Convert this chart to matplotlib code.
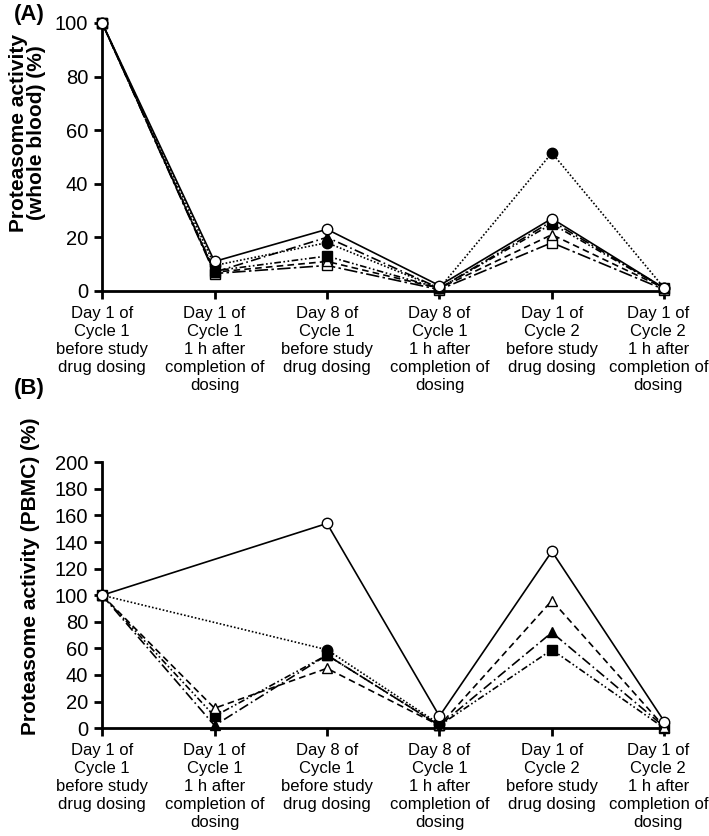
import numpy as np
import matplotlib.pyplot as plt
import matplotlib.transforms as mtransforms

plt.rcParams['font.family'] = ['Liberation Sans', 'DejaVu Sans']
plt.rcParams['font.size'] = 12

categories = ['Day 1 of\nCycle 1\nbefore study\ndrug dosing',
              'Day 1 of\nCycle 1\n1 h after\ncompletion of\ndosing',
              'Day 8 of\nCycle 1\nbefore study\ndrug dosing',
              'Day 8 of\nCycle 1\n1 h after\ncompletion of\ndosing',
              'Day 1 of\nCycle 2\nbefore study\ndrug dosing',
              'Day 1 of\nCycle 2\n1 h after\ncompletion of\ndosing']

# panel A - whole blood
a_open_circle = [100, 11, 23, 2, 27, 1]
a_filled_circle = [100, 9.5, 18, 1, 51.5, 1]
a_filled_triangle = [100, 7, 20, 1, 26, 1]
a_filled_square = [100, 7.5, 13, 1, 25, 1]
a_open_triangle = [100, 7, 11, 1, 21, 1]
a_open_square = [100, 6.5, 9.5, 0.5, 18, 0.5]

# panel B - PBMC (nan = not measured)
b_open_circle = [100, np.nan, 154, 9, 133, 5]
b_filled_circle = [100, np.nan, 59, 3, np.nan, np.nan]
b_open_triangle = [100, 15, 45, 2, 96, 1]
b_filled_triangle = [100, 2, 55, 2, 72, 1]
b_filled_square = [100, 9, 55, 2, 59, 0]

styles = {
    'open_circle': dict(marker='o', mfc='white', ls='-'),
    'filled_circle': dict(marker='o', mfc='black', ls=(0, (1, 1.2))),
    'filled_triangle': dict(marker='^', mfc='black', ls=(0, (6, 2, 1, 2))),
    'filled_square': dict(marker='s', mfc='black', ls=(0, (4, 1.5, 1, 1.5, 1, 1.5))),
    'open_triangle': dict(marker='^', mfc='white', ls=(0, (4, 2.5))),
    'open_square': dict(marker='s', mfc='white', ls=(0, (8, 2, 1.5, 2))),
}

x = np.arange(len(categories))


def draw(ax, vals, key):
    v = np.array(vals, dtype=float)
    m = ~np.isnan(v)
    st = styles[key]
    ax.plot(x[m], v[m], color='black', lw=1.2, ls=st['ls'], marker=st['marker'],
            mfc=st['mfc'], mec='black', ms=7.5, mew=1.0, clip_on=False, zorder=3)


def style_axes(ax, ymax, step):
    ax.set_xlim(0, 5)
    ax.set_ylim(0, ymax)
    ax.set_yticks(np.arange(0, ymax + 1, step))
    ax.set_xticks(x)
    ax.set_xticklabels(categories, fontsize=12, linespacing=1.25)
    for s in ['top', 'right']:
        ax.spines[s].set_visible(False)
    for s in ['left', 'bottom']:
        ax.spines[s].set_linewidth(2)
    ax.tick_params(direction='out', length=6, width=2, labelsize=14.5, pad=4)
    ax.tick_params(axis='x', labelsize=12, pad=5)
    # nudge the last label so it stays inside the figure
    last = ax.get_xticklabels()[-1]
    last.set_transform(last.get_transform() +
                       mtransforms.ScaledTranslation(-0.06, 0, fig.dpi_scale_trans))


fig = plt.figure(figsize=(7.09, 8.36), dpi=100)
axA = fig.add_axes([0.144, 0.652, 0.793, 0.3206])
axB = fig.add_axes([0.144, 0.129, 0.793, 0.318])

draw(axA, a_open_square, 'open_square')
draw(axA, a_open_triangle, 'open_triangle')
draw(axA, a_filled_square, 'filled_square')
draw(axA, a_filled_triangle, 'filled_triangle')
draw(axA, a_filled_circle, 'filled_circle')
draw(axA, a_open_circle, 'open_circle')
style_axes(axA, 100, 20)
axA.set_ylabel('Proteasome activity\n(whole blood) (%)', fontsize=15,
               fontweight='bold', linespacing=0.95)
axA.yaxis.set_label_coords(-0.100, 0.59)

draw(axB, b_filled_square, 'filled_square')
draw(axB, b_filled_triangle, 'filled_triangle')
draw(axB, b_open_triangle, 'open_triangle')
draw(axB, b_filled_circle, 'filled_circle')
draw(axB, b_open_circle, 'open_circle')
style_axes(axB, 200, 20)
axB.set_ylabel('Proteasome activity (PBMC) (%)', fontsize=15,
               fontweight='bold')
axB.yaxis.set_label_coords(-0.110, 0.57)

fig.text(0.02, 0.995, '(A)', fontsize=16, fontweight='bold', va='top')
fig.text(0.02, 0.548, '(B)', fontsize=16, fontweight='bold', va='top')

fig.savefig('out.png', dpi=100)
